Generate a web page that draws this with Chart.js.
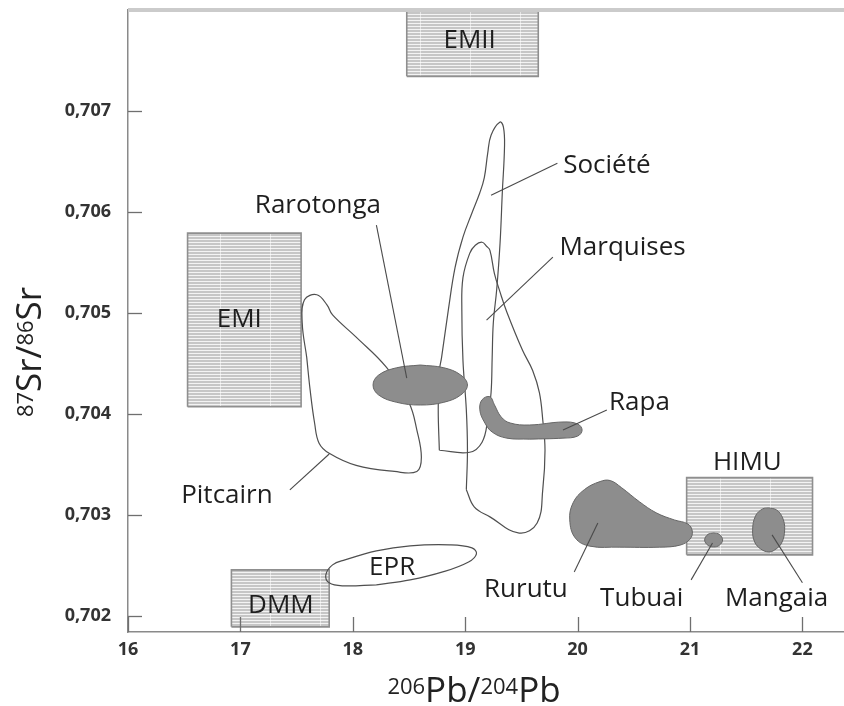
<!DOCTYPE html>
<html>
<head>
<meta charset="utf-8">
<script src="https://cdn.jsdelivr.net/npm/chart.js"></script>
<style>
html,body{margin:0;padding:0;background:#fff;overflow:hidden;}
#wrap{position:relative;width:844px;height:706px;}
</style>
</head>
<body>
<div id="wrap"><canvas id="c"></canvas></div>
<script>
// ---- axis ticks ----
const xTicks = [16, 17, 18, 19, 20, 21, 22];
const yTicks = [0.702, 0.703, 0.704, 0.705, 0.706, 0.707];
const yTickLabels = ['0,702', '0,703', '0,704', '0,705', '0,706', '0,707'];
const xRange = [16, 22.37];
const yRange = [0.70184, 0.708];

// ---- reservoir boxes (206Pb/204Pb, 87Sr/86Sr) ----
const emii = [[18.48,0.707343],[19.65,0.707343],[19.65,0.708],[18.48,0.708],[18.48,0.707343]];
const emi  = [[16.53,0.704071],[17.54,0.704071],[17.54,0.70579],[16.53,0.70579],[16.53,0.704071]];
const dmm  = [[16.92,0.701891],[17.79,0.701891],[17.79,0.702455],[16.92,0.702455],[16.92,0.701891]];
const himu = [[20.97,0.702604],[22.09,0.702604],[22.09,0.703369],[20.97,0.703369],[20.97,0.702604]];

// ---- open fields ----
const pitcairn = [[17.59,0.70456],[17.55,0.70490],[17.57,0.70513],[17.68,0.70518],[17.77,0.70508],[17.82,0.70498],
  [18.03,0.70476],[18.30,0.70446],[18.50,0.70411],[18.57,0.70384],[18.61,0.70357],[18.57,0.70343],[18.37,0.70343],
  [18.03,0.70349],[17.79,0.70361],[17.70,0.70371],[17.66,0.70391],[17.62,0.70424],[17.59,0.70456]];
const societe = [[18.77,0.70364],[18.76,0.70404],[18.77,0.70443],[18.79,0.70456],[18.85,0.70503],[18.91,0.70545],
  [18.98,0.70575],[19.06,0.70599],[19.13,0.70619],[19.17,0.70634],[19.20,0.70658],[19.23,0.70676],[19.31,0.70689],
  [19.34,0.70684],[19.35,0.70666],[19.33,0.70619],[19.31,0.70569],[19.28,0.70523],[19.25,0.70490],[19.24,0.70456],
  [19.23,0.70421],[19.20,0.70394],[19.15,0.70372],[19.04,0.70362],[18.77,0.70364]];
const marquises = [[19.01,0.70325],[19.08,0.70308],[19.22,0.70298],[19.48,0.70282],[19.64,0.70292],[19.69,0.70325],
  [19.71,0.70364],[19.69,0.70394],[19.66,0.70421],[19.60,0.70443],[19.51,0.70463],[19.37,0.70501],[19.31,0.705206],
  [19.26,0.70539],[19.22,0.70562],[19.19,0.70566],[19.15,0.70570],[19.09,0.70567],[19.04,0.70559],[18.98,0.70535],
  [18.97,0.70503],[18.98,0.70453],[19.01,0.70404],[19.02,0.70364],[19.01,0.70325]];
const epr = [[18.21,0.702307],[17.91,0.702297],[17.79,0.702327],[17.76,0.702406],[17.82,0.702505],[17.93,0.702554],
  [18.21,0.702643],[18.51,0.702693],[18.86,0.702703],[19.06,0.702673],[19.10,0.702614],[19.03,0.702534],
  [18.80,0.702435],[18.51,0.702356],[18.21,0.702307]];

// ---- filled fields ----
const rarotonga = [[18.60,0.704484],[18.81,0.704457],[18.96,0.704385],[19.02,0.704286],[18.96,0.704187],[18.81,0.704115],
  [18.60,0.704088],[18.39,0.704115],[18.23,0.704187],[18.18,0.704286],[18.23,0.704385],[18.39,0.704457],[18.60,0.704484]];
const rapa = [[19.57,0.70375],[19.37,0.70376],[19.24,0.70382],[19.17,0.70392],[19.13,0.70404],[19.15,0.70414],
  [19.22,0.70417],[19.26,0.70409],[19.32,0.70397],[19.40,0.70391],[19.57,0.70389],[19.87,0.70392],[20.00,0.70390],
  [20.04,0.70384],[20.00,0.70378],[19.87,0.70376],[19.57,0.70375]];
const rurutu = [[20.37,0.70268],[20.11,0.70269],[19.98,0.70277],[19.93,0.70295],[19.96,0.70312],[20.06,0.70325],
  [20.20,0.70333],[20.29,0.70334],[20.39,0.70327],[20.55,0.70313],[20.70,0.70302],[20.86,0.70295],[20.98,0.70291],
  [21.02,0.70284],[21.00,0.70276],[20.91,0.70270],[20.73,0.70268],[20.37,0.70268]];
const tubuai = [[21.21,0.702821],[21.26,0.702807],[21.29,0.702752],[21.26,0.702698],[21.21,0.702683],[21.16,0.702698],
  [21.13,0.702752],[21.16,0.702807],[21.21,0.702821]];
const mangaia = [[21.699,0.703069],[21.770,0.703049],[21.824,0.70297],[21.842,0.702851],[21.815,0.702722],[21.753,0.702653],
  [21.699,0.702633],[21.628,0.702663],[21.575,0.702732],[21.557,0.702851],[21.583,0.70299],[21.646,0.703059],[21.699,0.703069]];

// ---- leader lines ----
const leaders = [
  [[19.23,0.706166],[19.82,0.706482]],   // Société
  [[19.19,0.704929],[19.78,0.705552]],   // Marquises
  [[18.21,0.705869],[18.48,0.704355]],   // Rarotonga
  [[17.44,0.703247],[17.79,0.703603]],   // Pitcairn
  [[20.26,0.704038],[19.87,0.70384]],    // Rapa
  [[19.97,0.702435],[20.18,0.70292]],    // Rurutu
  [[21.01,0.702356],[21.20,0.702722]],   // Tubuai
  [[22.00,0.702327],[21.73,0.702802]]    // Mangaia
];

// ---- labels (x centre, baseline y) ----
const labelNames = ['Société','Marquises','Rarotonga','Pitcairn','Rapa','Rurutu','Tubuai','Mangaia','HIMU','EMII','EMI','DMM','EPR'];
const labelX = [20.26, 20.40, 17.69, 16.88, 20.55, 19.54, 20.57, 21.77, 21.51, 19.04, 16.99, 17.36, 18.35];
const labelY = [0.706384, 0.705572, 0.705988, 0.703121, 0.704038, 0.702188, 0.702099, 0.702099, 0.703445, 0.70762, 0.70486, 0.70203, 0.702406];

const xTitle = [['206', true], ['Pb', false], ['/', false], ['204', true], ['Pb', false]];
const yTitle = [['87', true], ['Sr', false], ['/', false], ['86', true], ['Sr', false]];

// ---------------------------------------------------------------
const canvas = document.getElementById('c');
const pctx = canvas.getContext('2d');
function makeHatch() {
  const c = document.createElement('canvas');
  c.width = 50; c.height = 3;
  const g = c.getContext('2d');
  g.fillStyle = '#f3f3f3'; g.fillRect(0, 0, 50, 3);
  g.fillStyle = '#c6c6c6'; g.fillRect(0, 0, 50, 2);
  g.fillStyle = 'rgba(255,255,255,0.55)'; g.fillRect(20, 0, 1, 3);
  return pctx.createPattern(c, 'repeat');
}
const hatch = makeHatch();
const pts = a => a.map(p => ({x: p[0], y: p[1]}));

const datasets = [];
leaders.forEach(l => datasets.push({data: pts(l), showLine: true, borderColor: '#4a4a4a', borderWidth: 1.1, fill: false, tension: 0, order: 0}));
[rarotonga, rapa, rurutu, tubuai, mangaia].forEach(s => datasets.push({
  data: pts(s), showLine: true, borderColor: '#666', borderWidth: 1, backgroundColor: '#8d8d8d', fill: 'shape', tension: 0.4, order: 1}));
[pitcairn, societe, marquises, epr].forEach(s => datasets.push({
  data: pts(s), showLine: true, borderColor: '#4f4f4f', borderWidth: 1.2, fill: false, tension: 0.4, order: 2}));
[emii, emi, dmm, himu].forEach(s => datasets.push({
  data: pts(s), showLine: true, borderColor: '#8f8f8f', borderWidth: 1.6, backgroundColor: hatch, fill: 'shape', tension: 0, order: 3}));

function drawTitle(ctx, parts, cx, base, rotate) {
  const big = '35px "Open Sans"', small = '22px "Open Sans"';
  let w = 0;
  parts.forEach(([t, sup]) => { ctx.font = sup ? small : big; w += ctx.measureText(t).width; });
  ctx.save();
  if (rotate) { ctx.translate(base, cx); ctx.rotate(-Math.PI / 2); } else { ctx.translate(cx, base); }
  let x = -w / 2;
  ctx.textAlign = 'left'; ctx.textBaseline = 'alphabetic'; ctx.fillStyle = '#222';
  parts.forEach(([t, sup]) => {
    ctx.font = sup ? small : big;
    ctx.fillText(t, x, sup ? -8 : 0);
    x += ctx.measureText(t).width;
  });
  ctx.restore();
}

const deco = {
  id: 'deco',
  afterDraw(chart) {
    const {ctx, chartArea: a, scales: {x, y}} = chart;
    ctx.save();
    ctx.fillStyle = '#cbcbcb';
    ctx.fillRect(a.left, a.top - 2, a.right - a.left, 4);
    ctx.strokeStyle = '#6f6f6f'; ctx.lineWidth = 1.3;
    yTicks.forEach(v => { const p = Math.round(y.getPixelForValue(v)) + 0.5; ctx.beginPath(); ctx.moveTo(a.left, p); ctx.lineTo(a.left + 14, p); ctx.stroke(); });
    xTicks.forEach(v => { const p = Math.round(x.getPixelForValue(v)) + 0.5; ctx.beginPath(); ctx.moveTo(p, a.bottom); ctx.lineTo(p, a.bottom - 15); ctx.stroke(); });
    ctx.fillStyle = '#1e1e1e'; ctx.font = '26px "Open Sans"'; ctx.textAlign = 'center'; ctx.textBaseline = 'alphabetic';
    labelNames.forEach((t, i) => ctx.fillText(t, x.getPixelForValue(labelX[i]), y.getPixelForValue(labelY[i])));
    ctx.restore();
    drawTitle(ctx, xTitle, (a.left + a.right) / 2 - 12, chart.height - 4, false);
    drawTitle(ctx, yTitle, (a.top + a.bottom) / 2 + 31, 41, true);
  }
};

new Chart(canvas, {
  type: 'scatter',
  data: {datasets},
  options: {
    responsive: true, maintainAspectRatio: false, animation: false, events: [],
    layout: {padding: {top: 10, right: 0, left: 0, bottom: 0}, autoPadding: false},
    elements: {point: {radius: 0, hoverRadius: 0}},
    plugins: {legend: {display: false}, tooltip: {enabled: false}, title: {display: false}},
    scales: {
      x: {
        type: 'linear', min: xRange[0], max: xRange[1],
        afterBuildTicks: s => { s.ticks = xTicks.map(v => ({value: v})); },
        afterFit: s => { s.height = 74; s.paddingLeft = 0; s.paddingRight = 0; },
        grid: {display: false, drawTicks: false},
        border: {display: true, color: '#8a8a8a', width: 1.5},
        ticks: {padding: 7, color: '#333', font: {family: 'Open Sans', size: 18, weight: 'bold'}, maxRotation: 0, autoSkip: false, callback: v => String(v)}
      },
      y: {
        type: 'linear', min: yRange[0], max: yRange[1],
        afterBuildTicks: s => { s.ticks = yTicks.map(v => ({value: v})); },
        afterFit: s => { s.width = 128; s.paddingTop = 0; s.paddingBottom = 0; },
        grid: {display: false, drawTicks: false},
        border: {display: true, color: '#8a8a8a', width: 1.5},
        ticks: {padding: 17, color: '#333', font: {family: 'Open Sans', size: 18, weight: 'bold'}, autoSkip: false,
          callback: (v) => { const i = yTicks.findIndex(t => Math.abs(t - v) < 1e-7); return i >= 0 ? yTickLabels[i] : ''; }}
      }
    }
  },
  plugins: [deco]
});
</script>
</body>
</html>
